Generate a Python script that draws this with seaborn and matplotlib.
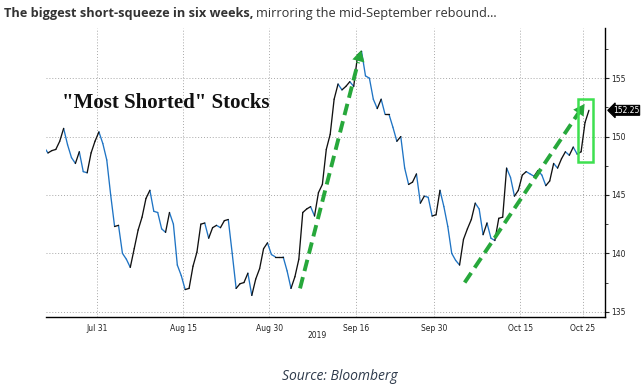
import numpy as np
import pandas as pd
import matplotlib
matplotlib.use('Agg')
import matplotlib.pyplot as plt
import matplotlib.transforms as mtransforms
from matplotlib.patches import Rectangle
import seaborn as sns

# weekdays shown on the chart (Bloomberg keeps Labor Day as a flat stretch)
days = pd.bdate_range('2019-07-22', '2019-10-25')

# index level, two readings per weekday (morning / afternoon)
price = [
    149.1, 148.6, 148.8, 148.9, 149.6, 150.7, 149.3, 148.2, 147.7, 148.7,
    147.0, 146.9, 148.6, 149.6, 150.4, 149.4, 148.0, 145.0, 142.3, 142.4,
    140.0, 139.5, 138.8, 140.4, 142.0, 143.1, 144.7, 145.4, 143.6, 143.5,
    142.1, 141.8, 143.5, 142.5, 139.0, 138.1, 136.9, 137.0, 138.9, 140.1,
    142.5, 142.6, 141.3, 142.2, 142.4, 142.2, 142.8, 142.9, 140.0, 137.0,
    137.4, 137.5, 138.3, 136.4, 137.8, 138.7, 140.4, 140.9, 139.9, 139.7,
    139.7, 139.7, 138.5, 137.0, 138.0, 139.5, 143.5, 143.8, 144.0, 143.2,
    145.2, 145.9, 148.9, 150.2, 153.2, 154.5, 154.0, 154.3, 154.7, 154.3,
    157.0, 157.3, 155.2, 155.0, 153.2, 152.4, 153.2, 151.9, 151.9, 150.8,
    149.6, 150.0, 147.3, 145.9, 146.1, 146.8, 144.3, 144.9, 144.8, 143.2,
    143.3, 145.4, 144.0, 142.3, 140.0, 139.4, 139.0, 141.2, 142.1, 142.9,
    144.3, 143.8, 141.6, 142.6, 141.3, 141.1, 143.0, 143.1, 147.3, 146.5,
    144.9, 145.4, 146.7, 147.0, 146.8, 146.6, 147.1, 146.7, 145.8, 146.2,
    147.7, 147.3, 148.1, 148.7, 148.4, 149.1, 148.5, 148.7, 151.2, 152.25,
]
last_value = 152.25

tick_dates = ['2019-07-31', '2019-08-15', '2019-08-30', '2019-09-16',
              '2019-09-30', '2019-10-15', '2019-10-25']
tick_labels = ['Jul 31', 'Aug 15', 'Aug 30', 'Sep 16', 'Sep 30', 'Oct 15', 'Oct 25']
minor_dates = ['2019-08-08', '2019-08-23', '2019-09-09', '2019-09-23',
               '2019-10-08', '2019-10-23']
y_major = [135, 140, 145, 150, 155]
y_minor = [137.5, 142.5, 147.5, 152.5, 157.5]

# trend arrows (start, tip) and highlight box, in chart units
arrow_starts = [(32.9, 137.0), (53.9, 137.5)]
arrow_tips = [(40.7, 157.4), (69.2, 152.8)]
box_x = [68.35, 70.3]
box_y = [147.8, 153.2]

blue = '#1f74c4'
green = '#27a83b'

x = np.repeat(np.arange(len(days)), 2) + np.tile([0.25, 0.75], len(days))
p = np.array(price)

# one small segment per step so up moves and down moves get their own colour
rows = []
for k in range(len(p) - 1):
    move = 'up' if p[k + 1] >= p[k] else 'down'
    rows.append((k, x[k], p[k], move))
    rows.append((k, x[k + 1], p[k + 1], move))
seg = pd.DataFrame(rows, columns=['seg', 'x', 'price', 'move'])

sns.set_style('white')
plt.rcParams['font.family'] = ['DejaVu Sans']

fig = plt.figure(figsize=(6.43, 3.89), dpi=100)
ax = fig.add_axes([46 / 643, 1 - 317 / 389, (605 - 46) / 643, (317 - 28) / 389])

sns.lineplot(data=seg, x='x', y='price', hue='move', units='seg', estimator=None,
             palette={'up': '#111111', 'down': blue}, lw=0.95, legend=False,
             sort=False, ax=ax)

ax.set_xlim(0.5, 71.8)
ax.set_ylim(134.55, 159.3)
ax.set_xlabel('')
ax.set_ylabel('')

ax.yaxis.tick_right()
ax.set_yticks(y_major)
ax.set_yticks(y_minor, minor=True)
ax.set_yticklabels([str(v) for v in y_major])
ax.tick_params(axis='y', which='major', direction='out', length=3, width=0.8,
               colors='#222222', labelsize=5.5, pad=1.5)
ax.tick_params(axis='y', which='minor', direction='out', length=2, width=0.6,
               colors='#222222')

tick_pos = [days.get_loc(pd.Timestamp(d)) for d in tick_dates]
minor_pos = [days.get_loc(pd.Timestamp(d)) for d in minor_dates]
ax.set_xticks(tick_pos)
ax.set_xticklabels(tick_labels)
ax.set_xticks(minor_pos, minor=True)
ax.tick_params(axis='x', which='major', direction='out', length=3, width=0.6,
               colors='#222222', labelsize=5.5, pad=2)
ax.tick_params(axis='x', which='minor', direction='out', length=2, width=0.6,
               colors='#222222')

ax.grid(True, which='major', color='#a8a8a8', linestyle=(0, (1, 2)), lw=0.7)
for side in ['top', 'left']:
    ax.spines[side].set_visible(False)
for side in ['right', 'bottom']:
    ax.spines[side].set_color('black')
    ax.spines[side].set_linewidth(1.0)

# green dashed trend arrows
for (x0, y0), (x1, y1) in zip(arrow_starts, arrow_tips):
    bx = x1 - 0.05 * (x1 - x0)
    by = y1 - 0.05 * (y1 - y0)
    ax.plot([x0, bx], [y0, by], color=green, lw=2.8, ls=(0, (3, 1.6)),
            solid_capstyle='butt')
    ax.annotate('', xy=(x1, y1), xytext=(bx, by),
                arrowprops=dict(arrowstyle='-|>,head_length=0.8,head_width=0.45',
                                color=green, lw=0, shrinkA=0, shrinkB=0))

ax.add_patch(Rectangle((box_x[0], box_y[0]), box_x[1] - box_x[0], box_y[1] - box_y[0],
                       fill=False, ec='#3ee050', lw=1.8, zorder=5))

ax.text(0.029, 0.74, '"Most Shorted" Stocks', transform=ax.transAxes,
        family='Liberation Serif', weight='bold', size=15, va='center', color='#111111')

trans = mtransforms.blended_transform_factory(ax.transAxes, ax.transData)
ax.text(1.014, last_value, '152.25', transform=trans, color='white', size=5.5,
        va='center', ha='left',
        bbox=dict(boxstyle='larrow,pad=0.06', fc='black', ec='black', lw=0.8))

fig.text(317 / 643, 1 - 335 / 389, '2019', ha='center', va='center',
         size=5.5, color='#222222')

t1 = fig.text(4 / 643, 1 - 13 / 389, 'The biggest short-squeeze in six weeks,',
              family='Open Sans', weight='bold', size=9.2, color='#333333', va='center')
fig.canvas.draw()
bb = t1.get_window_extent()
fig.text((bb.x1 + 3) / 643, 1 - 13 / 389, 'mirroring the mid-September rebound\u2026',
         family='Open Sans', size=9.2, color='#333333', va='center')

fig.text(340 / 643, 1 - 377 / 389, 'Source: Bloomberg', family='Open Sans',
         style='italic', size=10, color='#2f3b4c', ha='center', va='center')

fig.savefig('out.png', dpi=100)
